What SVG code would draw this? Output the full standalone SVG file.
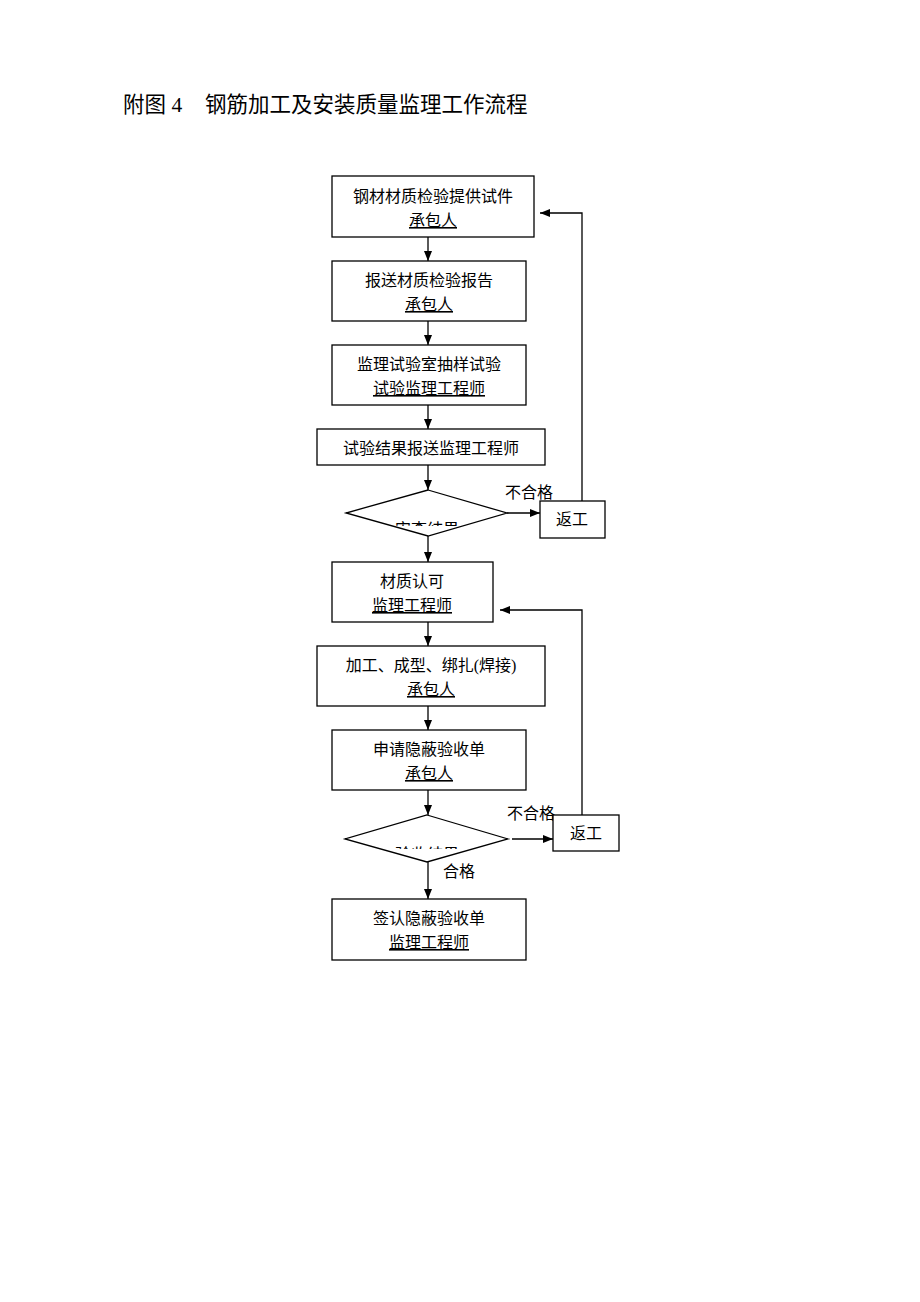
<svg xmlns="http://www.w3.org/2000/svg" width="920" height="1302" viewBox="0 0 920 1302">
<style>
.box{fill:#fff;stroke:#000;stroke-width:1.3}
.t{font-family:"Liberation Serif","Noto Sans CJK SC",serif;font-size:16px;fill:#000;text-anchor:middle}
.u{text-decoration:underline}
.lbl{font-family:"Liberation Serif","Noto Sans CJK SC",serif;font-size:16px;fill:#000}
.ln{fill:none;stroke:#000;stroke-width:1.3}
</style>
<defs>
<marker id="ah" viewBox="0 0 10 8" refX="10" refY="4" markerWidth="10" markerHeight="8" markerUnits="userSpaceOnUse" orient="auto">
<path d="M0,0 L10,4 L0,8 Z" fill="#000"/>
</marker>
<clipPath id="c1"><rect x="340" y="500" width="170" height="26"/></clipPath>
<clipPath id="c2"><rect x="340" y="820" width="170" height="29"/></clipPath>
</defs>
<rect width="920" height="1302" fill="#fff"/>
<text y="112" font-family="Liberation Serif,Noto Sans CJK SC,serif" font-size="21.5" fill="#000"><tspan x="123">附图 4</tspan><tspan x="205">钢筋加工及安装质量监理工作流程</tspan></text>

<g id="connectors">
<line class="ln" x1="428" y1="237" x2="428" y2="261" marker-end="url(#ah)"/>
<line class="ln" x1="428" y1="321" x2="428" y2="345" marker-end="url(#ah)"/>
<line class="ln" x1="428" y1="405" x2="428" y2="429" marker-end="url(#ah)"/>
<line class="ln" x1="428" y1="465" x2="428" y2="490" marker-end="url(#ah)"/>
<line class="ln" x1="428" y1="536" x2="428" y2="562" marker-end="url(#ah)"/>
<line class="ln" x1="507" y1="513" x2="540" y2="513" marker-end="url(#ah)"/>
<polyline class="ln" points="582,501 582,213 540,213" marker-end="url(#ah)"/>
<line class="ln" x1="428" y1="622" x2="428" y2="646" marker-end="url(#ah)"/>
<line class="ln" x1="428" y1="706" x2="428" y2="730" marker-end="url(#ah)"/>
<line class="ln" x1="428" y1="790" x2="428" y2="815" marker-end="url(#ah)"/>
<line class="ln" x1="512" y1="839" x2="553" y2="839" marker-end="url(#ah)"/>
<polyline class="ln" points="582,815 582,610 500,610" marker-end="url(#ah)"/>
<line class="ln" x1="428" y1="862" x2="428" y2="899" marker-end="url(#ah)"/>
<text class="lbl" x="505" y="498">不合格</text>
<text class="lbl" x="507" y="819">不合格</text>
<text class="lbl" x="443" y="877">合格</text>
</g>

<g id="n1"><rect class="box" x="332" y="176" width="202" height="61"/>
<text class="t" x="433" y="202">钢材材质检验提供试件</text><text class="t u" x="433" y="226">承包人</text></g>
<g id="n2"><rect class="box" x="332" y="261" width="194" height="60"/>
<text class="t" x="429" y="286">报送材质检验报告</text><text class="t u" x="429" y="310">承包人</text></g>
<g id="n3"><rect class="box" x="332" y="345" width="194" height="60"/>
<text class="t" x="429" y="370">监理试验室抽样试验</text><text class="t u" x="429" y="394">试验监理工程师</text></g>
<g id="n4"><rect class="box" x="317" y="429" width="228" height="36"/>
<text class="t" x="431" y="454">试验结果报送监理工程师</text></g>
<g id="d1"><polygon class="box" points="428,490 507,513 428,536 346,513"/>
<text class="t" x="427" y="535" clip-path="url(#c1)">审查结果</text></g>
<g id="r1"><rect class="box" x="540" y="501" width="65" height="37"/>
<text class="t" x="572" y="525">返工</text></g>
<g id="n5"><rect class="box" x="332" y="562" width="161" height="60"/>
<text class="t" x="412" y="587">材质认可</text><text class="t u" x="412" y="611">监理工程师</text></g>
<g id="n6"><rect class="box" x="317" y="646" width="228" height="60"/>
<text class="t" x="431" y="671">加工、成型、绑扎(焊接)</text><text class="t u" x="431" y="695">承包人</text></g>
<g id="n7"><rect class="box" x="332" y="730" width="194" height="60"/>
<text class="t" x="429" y="755">申请隐蔽验收单</text><text class="t u" x="429" y="779">承包人</text></g>
<g id="d2"><polygon class="box" points="427,815 508,839 427,862 345,839"/>
<text class="t" x="427" y="860" clip-path="url(#c2)">验收结果</text></g>
<g id="r2"><rect class="box" x="553" y="815" width="66" height="36"/>
<text class="t" x="586" y="839">返工</text></g>
<g id="n8"><rect class="box" x="332" y="899" width="194" height="61"/>
<text class="t" x="429" y="924">签认隐蔽验收单</text><text class="t u" x="429" y="948">监理工程师</text></g>
</svg>
